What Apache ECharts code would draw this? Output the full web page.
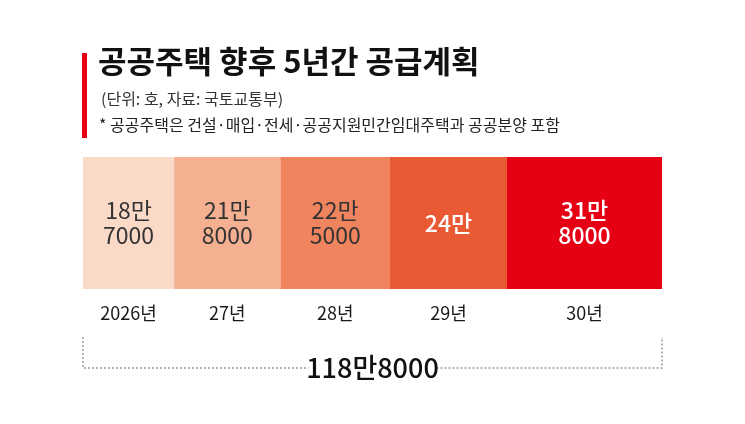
<!DOCTYPE html>
<html>
<head>
<meta charset="utf-8">
<script src="https://cdn.jsdelivr.net/npm/echarts@6/dist/echarts.min.js"></script>
<style>
  html, body { margin: 0; padding: 0; background: #fff; }
  #chart { width: 745px; height: 424px; }
</style>
</head>
<body>
<div id="chart"></div>
<script>
// 연도별 공급 물량 (호)
var years = ['2026년', '27년', '28년', '29년', '30년'];
var supply = [187000, 218000, 225000, 240000, 318000];
var colors = ['#FBD9C7', '#F5B092', '#F0845F', '#E95934', '#E50014'];
var labelColors = ['#333333', '#333333', '#333333', '#ffffff', '#ffffff'];

var total = supply.reduce(function(a, b) { return a + b; }, 0);

// 18만7000 -> "18만\n7000"
function toMan(v, sep) {
	var man = Math.floor(v / 10000),
		rest = v % 10000;
	return man + '만' + (rest ? sep + rest : '');
}

var FONT = '"Noto Sans CJK KR", "Noto Sans", sans-serif';

var series = [];
years.forEach(function(y, i) {
	// 막대
	series.push({
		name: y,
		type: 'bar',
		stack: 'bar',
		xAxisIndex: 0,
		yAxisIndex: 0,
		barWidth: '100%',
		silent: true,
		data: [supply[i]],
		itemStyle: { color: colors[i] },
		label: {
			show: true,
			position: 'inside',
			formatter: function() { return toMan(supply[i], '\n'); },
			color: labelColors[i],
			fontFamily: FONT,
			fontSize: 23,
			lineHeight: 25,
			fontWeight: labelColors[i] == '#ffffff' ? 500 : 'normal'
		}
	});
	// 연도 라벨 (투명 막대)
	series.push({
		name: y + '_label',
		type: 'bar',
		stack: 'year',
		xAxisIndex: 1,
		yAxisIndex: 1,
		barWidth: '100%',
		silent: true,
		data: [supply[i]],
		itemStyle: { color: 'rgba(0,0,0,0)' },
		label: {
			show: true,
			position: 'inside',
			formatter: y,
			color: '#1a1a1a',
			fontFamily: FONT,
			fontSize: 18
		}
	});
});

var chart = echarts.init(document.getElementById('chart'));
var option = {
	animation: false,
	title: [{
		text: '공공주택 향후 5년간 공급계획',
		left: 98,
		top: 46,
		padding: 0,
		textStyle: { fontFamily: FONT, fontSize: 31, fontWeight: 'bold', color: '#111' }
	}, {
		text: '(단위: 호, 자료: 국토교통부)',
		left: 101,
		top: 91,
		padding: 0,
		textStyle: { fontFamily: FONT, fontSize: 16, fontWeight: 'normal', color: '#333' }
	}, {
		text: '* 공공주택은 건설·매입·전세·공공지원민간임대주택과 공공분양 포함',
		left: 99,
		top: 117,
		padding: 0,
		textStyle: { fontFamily: FONT, fontSize: 16, fontWeight: 'normal', color: '#222' }
	}],
	grid: [
		{ left: 83, right: 83, top: 157, height: 132 },
		{ left: 83, right: 83, top: 296, height: 34 }
	],
	xAxis: [
		{ gridIndex: 0, type: 'value', min: 0, max: total, show: false },
		{ gridIndex: 1, type: 'value', min: 0, max: total, show: false }
	],
	yAxis: [
		{ gridIndex: 0, type: 'category', data: ['공급'], show: false },
		{ gridIndex: 1, type: 'category', data: ['연도'], show: false }
	],
	series: series
};
chart.setOption(option);

// 합계 괄호선
var x0 = chart.convertToPixel({ xAxisIndex: 0 }, 0),
	x1 = chart.convertToPixel({ xAxisIndex: 0 }, total),
	xc = (x0 + x1) / 2,
	yTop = 337,
	yLine = 368,
	gap = 64;
var lineStyle = { stroke: '#9a9a9a', lineWidth: 1.5, lineDash: [2, 2] };
chart.setOption({
	graphic: [
		{ type: 'rect', left: 82, top: 53, shape: { width: 5, height: 85 }, style: { fill: '#E60012' } },
		{ type: 'polyline', shape: { points: [[x0, yTop], [x0, yLine], [xc - gap, yLine]] }, style: lineStyle },
		{ type: 'polyline', shape: { points: [[xc + gap, yLine], [x1, yLine], [x1, yTop]] }, style: lineStyle },
		{
			type: 'text',
			x: xc,
			y: yLine,
			style: {
				text: toMan(total, ''),
				fontFamily: FONT,
				fontSize: 27,
				fontWeight: 500,
				fill: '#111',
				align: 'center',
				verticalAlign: 'middle'
			}
		}
	]
});
</script>
</body>
</html>
